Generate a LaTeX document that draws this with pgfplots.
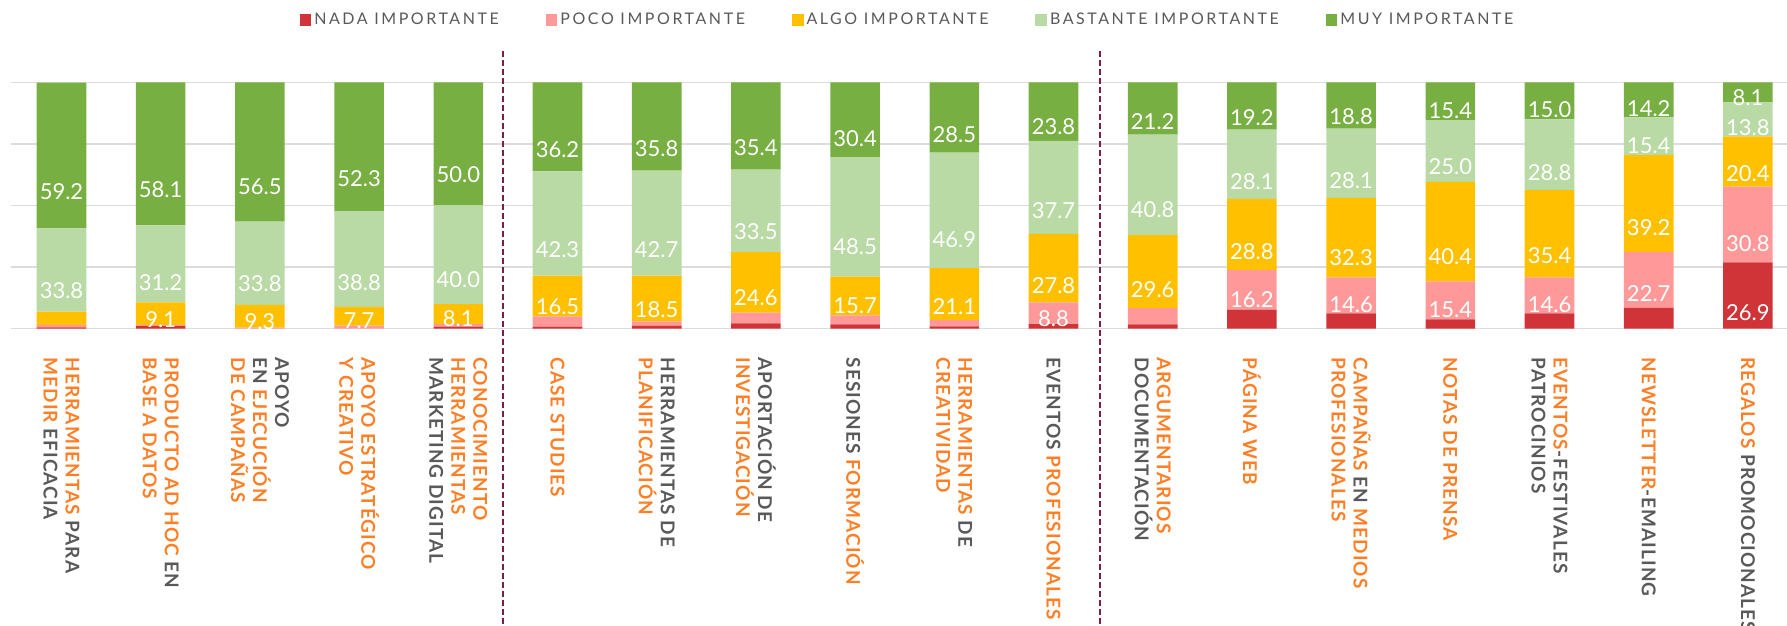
\documentclass[border=0pt]{standalone}
\usepackage{pgfplots}
\pgfplotsset{compat=1.18}
\usepackage{pgfplotstable}
\usepackage{fontspec}
\setmainfont{Lato}
\newfontfamily\labfont[LetterSpace=5.5]{Lato}
\newfontfamily\legfont[LetterSpace=16]{Lato}
\definecolor{nadac}{HTML}{D03438}
\definecolor{pococ}{HTML}{FF9999}
\definecolor{algoc}{HTML}{FFC000}
\definecolor{bastc}{HTML}{B9DAA4}
\definecolor{muyc}{HTML}{78AF42}
\definecolor{labor}{HTML}{FF7F27}
\definecolor{labgr}{HTML}{595959}
\definecolor{gridc}{HTML}{DCDCDC}
\definecolor{sepc}{HTML}{7A1E4E}
\newcommand{\og}[1]{\textcolor{labor}{#1}}
\newcommand{\gr}[1]{\textcolor{labgr}{#1}}

\pgfplotstableread{
x  nada poco algo bast muy
0  0.5  1.0  5.4  33.8 59.2
1  1.0  0.6  9.1  31.2 58.1
2  0.0  0.4  9.3  33.8 56.5
3  0.0  1.2  7.7  38.8 52.3
4  0.8  1.1  8.1  40.0 50.0
5  0.8  4.2  16.5 42.3 36.2
6  1.2  1.8  18.5 42.7 35.8
7  2.2  4.3  24.6 33.5 35.4
8  1.8  3.6  15.7 48.5 30.4
9  0.9  2.6  21.1 46.9 28.5
10 1.9  8.8  27.8 37.7 23.8
11 1.8  6.6  29.6 40.8 21.2
12 7.7  16.2 28.8 28.1 19.2
13 6.2  14.6 32.3 28.1 18.8
14 3.8  15.4 40.4 25.0 15.4
15 6.2  14.6 35.4 28.8 15.0
16 8.5  22.7 39.2 15.4 14.2
17 26.9 30.8 20.4 13.8 8.1
}\data

\pgfplotsset{
  seg/.style n args={3}{
    fill=#1, draw=none,
    legend image code/.code={\fill[##1] (0pt,-2.9pt) rectangle (5.8pt,2.9pt);},
    visualization depends on={\thisrow{#2} \as \val},
    nodes near coords={\ifdim\val pt<#3pt\else\pgfmathprintnumber[fixed,fixed zerofill,precision=1,assume math mode=true]{\val}\fi},
    every node near coord/.append style={anchor=center, text=white,
      font=\fontsize{11}{13}\selectfont, inner sep=0pt, yshift={-0.308pt*\val}},
  }
}

\begin{document}
\begin{tikzpicture}
\useasboundingbox (-5.5pt,-148.25pt) rectangle (888pt,164.35pt);
\begin{axis}[
  at={(0,0)}, anchor=south west,
  scale only axis, width=888pt, height=123.2pt,
  ybar stacked, bar width=0.5,
  xmin=-0.509, xmax=17.394, ymin=0, ymax=100,
  ytick={0,25,50,75,100}, yticklabels={},
  ymajorgrids, grid style={gridc, line width=0.7pt},
  axis line style={draw=none}, major tick length=0pt, tick style={draw=none},
  xtick={0,...,17},
  xticklabels={
    {\og{HERRAMIENTAS} \gr{PARA}\\\og{MEDIR} \gr{EFICACIA}},
    {\og{PRODUCTO AD HOC} \gr{EN}\\\og{BASE A DATOS}},
    {\gr{APOYO}\\\gr{EN} \og{EJECUCIÓN}\\\og{DE CAMPAÑAS}},
    {\og{APOYO ESTRATÉGICO}\\\og{Y CREATIVO}},
    {\og{CONOCIMIENTO}\\\og{HERRAMIENTAS}\\\gr{MARKETING DIGITAL}},
    {\og{CASE STUDIES}},
    {\gr{HERRAMIENTAS DE}\\\og{PLANIFICACIÓN}},
    {\gr{APORTACIÓN DE}\\\og{INVESTIGACIÓN}},
    {\gr{SESIONES} \og{FORMACIÓN}},
    {\og{HERRAMIENTAS} \gr{DE}\\\og{CREATIVIDAD}},
    {\gr{EVENTOS} \og{PROFESIONALES}},
    {\og{ARGUMENTARIOS}\\\gr{DOCUMENTACIÓN}},
    {\og{PÁGINA WEB}},
    {\og{CAMPAÑAS} \gr{EN} \og{MEDIOS}\\\og{PROFESIONALES}},
    {\og{NOTAS DE PRENSA}},
    {\og{EVENTOS}\gr{-FESTIVALES}\\\gr{PATROCINIOS}},
    {\og{NEWSLETTER}\gr{-EMAILING}},
    {\og{REGALOS} \gr{PROMOCIONALES}}
  },
  xticklabel style={rotate=-90, anchor=west, align=left, inner sep=0pt,
    font=\labfont\bfseries\fontsize{9.5}{11}\selectfont},
  xticklabel shift=14.25pt,
  clip=false,
  legend columns=5,
  legend style={at={(0.5,1)}, anchor=center, xshift=4.5pt, yshift=31.15pt,
    draw=none, fill=none, font=\legfont\fontsize{8}{10}\selectfont, text=labgr,
    /tikz/every even column/.append style={column sep=22pt},
    inner sep=0pt, nodes={inner sep=1.5pt}},
]
\addplot[seg={nadac}{nada}{10}] table[x=x,y=nada]{\data};
\addplot[seg={pococ}{poco}{7}] table[x=x,y=poco]{\data};
\addplot[seg={algoc}{algo}{7}] table[x=x,y=algo]{\data};
\addplot[seg={bastc}{bast}{7}] table[x=x,y=bast]{\data};
\addplot[seg={muyc}{muy}{7}] table[x=x,y=muy]{\data};
\legend{NADA IMPORTANTE, POCO IMPORTANTE, ALGO IMPORTANTE, BASTANTE IMPORTANTE, MUY IMPORTANTE}
\draw[sepc, line width=0.7pt, dash pattern=on 3pt off 1.5pt] (axis cs:4.45,112.6) -- (axis cs:4.45,-120.3);
\draw[sepc, line width=0.7pt, dash pattern=on 3pt off 1.5pt] (axis cs:10.47,112.6) -- (axis cs:10.47,-120.3);
\end{axis}
\end{tikzpicture}
\end{document}
